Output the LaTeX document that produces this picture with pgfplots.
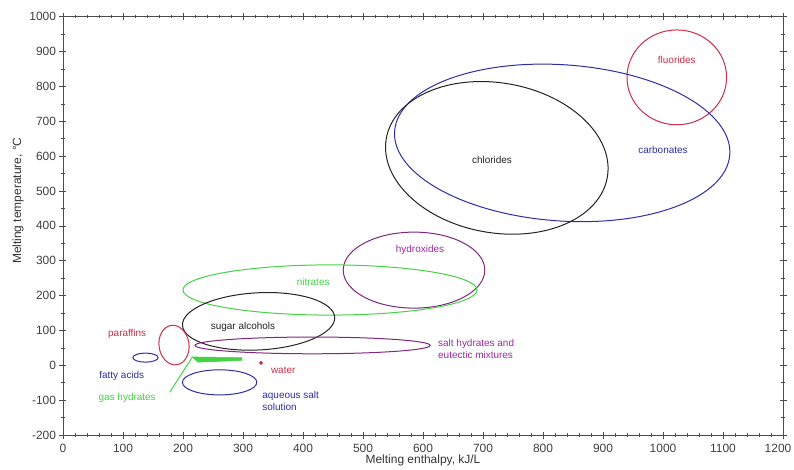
\documentclass[border=0pt]{standalone}
\usepackage{fontspec}
\setmainfont{Liberation Sans}
\usepackage{pgfplots}
\pgfplotsset{compat=1.18}
\definecolor{cred}{RGB}{205,45,70}
\definecolor{cblue}{RGB}{45,45,170}
\definecolor{cgreen}{RGB}{70,210,70}
\definecolor{cpurple}{RGB}{160,40,165}
\definecolor{cdpurple}{RGB}{125,40,125}
\definecolor{cblack}{RGB}{35,35,35}
\begin{document}
\begin{tikzpicture}
\begin{axis}[
 at={(0,0)}, anchor=south west,
 scale only axis, width=720bp, height=418.3bp,
 xmin=0, xmax=1200, ymin=-200, ymax=1000,
 xtick={0,100,...,1100}, ytick distance=100,
 extra x ticks={1200},
 extra x tick style={xticklabel style={xshift=-5bp}},
 minor xtick={0,20,...,1200}, minor y tick num=1,
 tick align=center, major tick length=7bp, minor tick length=3.5bp,
 axis line style={draw=black!70, line width=0.8bp},
 every tick/.style={black!70, line width=0.6bp},
 tick label style={font=\fontsize{12}{14}\selectfont, text=black!75},
 x tick label style={yshift=-2bp},
 /pgf/number format/assume math mode=true,
 /pgf/number format/1000 sep={},
 xlabel={Melting enthalpy, kJ/L},
 ylabel={Melting temperature, °C},
 label style={font=\fontsize{12}{14}\selectfont, text=black!80},
 xlabel style={at={(axis description cs:0.5,-0.06)}, anchor=center},
 ylabel style={at={(axis description cs:-0.0625,0.56)}, anchor=center},
 every node/.append style={font=\fontsize{12.5}{16}\selectfont},
]
% ellipses: centre (axis units), radii (axis units)
\draw[cred, line width=1bp] (axis cs:1023,826) ellipse [x radius=83, y radius=136];
\draw[cblue, line width=1bp, rotate around={-4:(axis cs:832,638)}] (axis cs:832,638) ellipse [x radius=280, y radius=224];
\draw[cblack, line width=1bp, rotate around={-10:(axis cs:723,595)}] (axis cs:723,595) ellipse [x radius=187, y radius=215];
\draw[cdpurple, line width=1bp] (axis cs:585,273) ellipse [x radius=118, y radius=109];
\draw[cgreen, line width=1bp] (axis cs:445,216) ellipse [x radius=245, y radius=72];
\draw[cblack, line width=1bp, rotate around={3:(axis cs:326,126)}] (axis cs:326,126) ellipse [x radius=127, y radius=82];
\draw[cdpurple, line width=1bp] (axis cs:416,57) ellipse [x radius=196, y radius=24];
\draw[cred, line width=1bp, rotate around={8:(axis cs:185,58)}] (axis cs:185,58) ellipse [x radius=25, y radius=57];
\draw[cblue, line width=1bp] (axis cs:137.5,22) ellipse [x radius=21, y radius=13];
\draw[cblue, line width=1bp] (axis cs:261,-49) ellipse [x radius=62, y radius=36];
% gas hydrates
\addplot[cgreen, line width=1bp] coordinates {(178,-77) (215,22)};
\addplot[cgreen, fill=cgreen, line width=0.5bp] coordinates {(215,24) (298,22) (298,14) (225,9)} -- cycle;
% water
\addplot[only marks, mark=*, mark size=1.7bp, cred] coordinates {(330,7)};
% labels
\node[cred] at (axis cs:1023,876) {fluorides};
\node[cblue] at (axis cs:1000,617) {carbonates};
\node[cblack] at (axis cs:715,589) {chlorides};
\node[cpurple] at (axis cs:595,331) {hydroxides};
\node[cgreen] at (axis cs:417,239) {nitrates};
\node[cblack] at (axis cs:300,110) {sugar alcohols};
\node[cpurple, anchor=west, align=left, inner sep=0pt] at (axis cs:625,48) {salt hydrates and\\eutectic mixtures};
\node[cred] at (axis cs:107,89) {paraffins};
\node[cblue] at (axis cs:98,-31) {fatty acids};
\node[cgreen] at (axis cs:107,-94) {gas hydrates};
\node[cred] at (axis cs:367,-14) {water};
\node[cblue, anchor=west, align=left, inner sep=0pt] at (axis cs:332,-102) {aqueous salt\\solution};
\end{axis}
\pgfresetboundingbox
\path[use as bounding box] (-63bp,-35bp) rectangle (731bp,435bp);
\end{tikzpicture}
\end{document}
